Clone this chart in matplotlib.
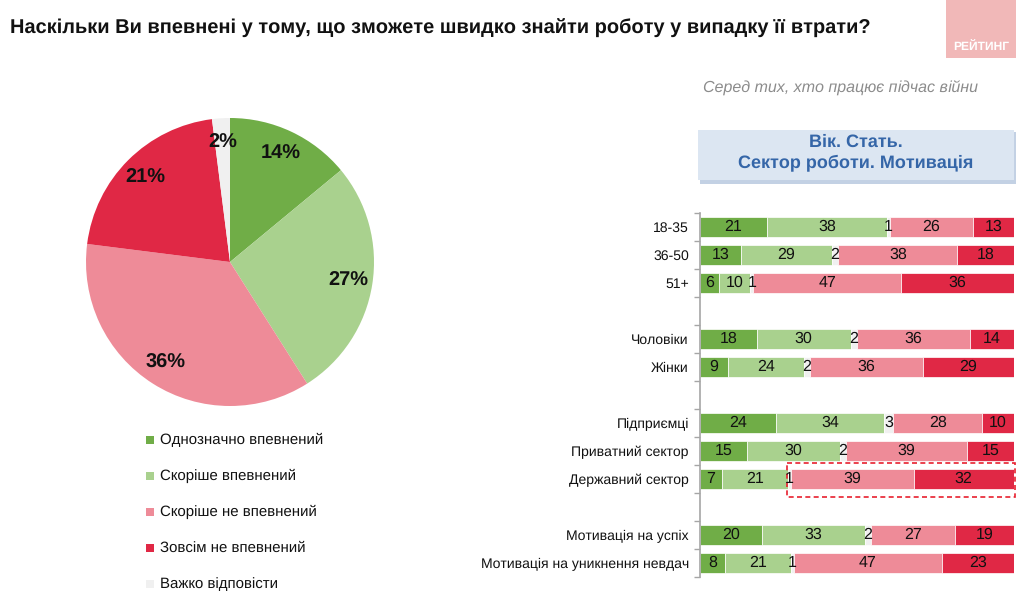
import matplotlib
matplotlib.use("Agg")
import matplotlib.pyplot as plt
from matplotlib.patches import Rectangle
import numpy as np

# ---------------- data ----------------
title = "Наскільки Ви впевнені у тому, що зможете швидко знайти роботу у випадку її втрати?"
subtitle = "Серед тих, хто працює підчас війни"
header_lines = ["Вік. Стать.", "Сектор роботи. Мотивація"]
logo = "РЕЙТИНГ"

answers = ["Однозначно впевнений", "Скоріше впевнений", "Скоріше не впевнений",
           "Зовсім не впевнений", "Важко відповісти"]
pie_values = [14, 27, 36, 21, 2]

categories = ["18-35", "36-50", "51+", "", "Чоловіки", "Жінки", "",
              "Підприємці", "Приватний сектор", "Державний сектор", "",
              "Мотивація на успіх", "Мотивація на уникнення невдач"]
definitely = [21, 13, 6, None, 18, 9, None, 24, 15, 7, None, 20, 8]
rather_yes = [38, 29, 10, None, 30, 24, None, 34, 30, 21, None, 33, 21]
hard_to_say = [1, 2, 1, None, 2, 2, None, 3, 2, 1, None, 2, 1]
rather_no = [26, 38, 47, None, 36, 36, None, 28, 39, 39, None, 27, 47]
not_at_all = [13, 18, 36, None, 14, 29, None, 10, 15, 32, None, 19, 23]
highlight_row = "Державний сектор"

colors = ["#70AD47", "#A9D18E", "#EE8B98", "#E02845", "#F0F0F0"]

FONT = ["Liberation Sans", "DejaVu Sans"]
plt.rcParams["font.family"] = FONT
plt.rcParams["text.hinting"] = "no_hinting"
plt.rcParams["text.hinting_factor"] = 1

fig = plt.figure(figsize=(10.24, 6.02), dpi=100)
W, H = 1024, 602
renderer = fig.canvas.get_renderer()


def fx(px):
    return px / W


def fy(py):
    return 1 - py / H


def fit(txt, target_px):
    """Adjust font size so the text is target_px wide."""
    bb = txt.get_window_extent(renderer=renderer)
    size = txt.get_fontsize() * target_px / bb.width
    txt.set_fontsize(size)
    return size


# title
t = fig.text(fx(10), fy(28), title, fontweight="bold", fontsize=14,
             va="center", ha="left", color="#111111")
fit(t, 834)

# logo
fig.patches.append(Rectangle((fx(946), fy(58)), fx(70), 58 / H, transform=fig.transFigure,
                             facecolor="#F1B8B8", edgecolor="none"))
t = fig.text(fx(981), fy(47), logo, fontweight="bold", fontsize=9,
             color="white", ha="center", va="center")
fit(t, 60)

# subtitle
t = fig.text(fx(978), fy(88), subtitle, fontstyle="italic", fontsize=11,
             color="#8C8C8C", ha="right", va="center")
fit(t, 270)

# header box with shadow
fig.patches.append(Rectangle((fx(700), fy(184)), fx(316), 52 / H, transform=fig.transFigure,
                             facecolor="#C3D1E4", edgecolor="none"))
fig.patches.append(Rectangle((fx(698), fy(180)), fx(316), 50 / H, transform=fig.transFigure,
                             facecolor="#DCE6F2", edgecolor="none"))
t2 = fig.text(fx(856), fy(163), header_lines[1], fontweight="bold", fontsize=12,
              color="#3566A8", ha="center", va="center")
hs = fit(t2, 242)
fig.text(fx(856), fy(142), header_lines[0], fontweight="bold", fontsize=hs,
         color="#3566A8", ha="center", va="center")

# ---------------- pie ----------------
cx, cy, r = 230, 262, 144
axp = fig.add_axes([fx(cx - r), fy(cy + r), 2 * r / W, 2 * r / H])
wedges, texts, autotexts = axp.pie(
    pie_values, colors=colors, startangle=90, counterclock=False,
    autopct=lambda p: f"{p:.0f}%", pctdistance=0.83,
    wedgeprops=dict(linewidth=0), textprops=dict(fontweight="bold",
                                                  fontsize=14.5, color="#111111"))
axp.set_xlim(-1, 1)
axp.set_ylim(-1, 1)
axp.set_aspect("equal")

# legend
leg_y = [440, 476, 512, 548, 584]
legend_size = None
for lab, col, ly in zip(answers, colors, leg_y):
    fig.patches.append(Rectangle((fx(146), fy(ly + 4)), fx(8), 8 / H,
                                 transform=fig.transFigure, facecolor=col, edgecolor="none"))
    lt = fig.text(fx(160), fy(ly), lab, fontsize=11, color="#111111",
                  ha="left", va="center")
    if legend_size is None:
        legend_size = fit(lt, 160)
    lt.set_fontsize(legend_size)

# ---------------- stacked bars ----------------
row_px = 28
top_center = 227
n = len(categories)
ax = fig.add_axes([fx(700), fy(top_center + (n - 0.5) * row_px), fx(314), n * row_px / H])
ax.set_ylim(n - 0.5, -0.5)
ax.set_xlim(0, 100)

seg_order = [definitely, rather_yes, hard_to_say, rather_no, not_at_all]
seg_colors = [colors[0], colors[1], colors[4], colors[2], colors[3]]
bar_h = 20 / row_px
for i, cat in enumerate(categories):
    if definitely[i] is None:
        continue
    vals = np.array([s[i] for s in seg_order], dtype=float)
    scaled = vals / vals.sum() * 100
    left = 0.0
    for v, sv, col in zip(vals, scaled, seg_colors):
        ax.barh(i, sv, left=left, height=bar_h, color=col, edgecolor="white", linewidth=0.5)
        ax.text(left + sv / 2, i, f"{int(v)}", ha="center", va="center",
                fontsize=11.5, color="#111111")
        left += sv
    if cat == highlight_row:
        start = scaled[0] + scaled[1]
        ax.add_patch(Rectangle((start - 0.4, i - 0.58), 100.8 - start, 1.22,
                               fill=False, edgecolor="#E8202F", linestyle=(0, (3, 2)),
                               linewidth=1.2, clip_on=False))

ax.set_yticks(range(n))
ax.set_yticklabels(categories, fontsize=10.2, color="#111111")
ax.tick_params(axis="y", which="major", length=0, pad=8)
ax.set_yticks(np.arange(-0.5, n, 1.0), minor=True)
ax.tick_params(axis="y", which="minor", length=4, color="#A6A6A6", width=1)
ax.set_xticks([])
for s in ["top", "right", "bottom"]:
    ax.spines[s].set_visible(False)
ax.spines["left"].set_color("#A6A6A6")
ax.spines["left"].set_linewidth(1.2)

fig.savefig("out.png", dpi=100)
